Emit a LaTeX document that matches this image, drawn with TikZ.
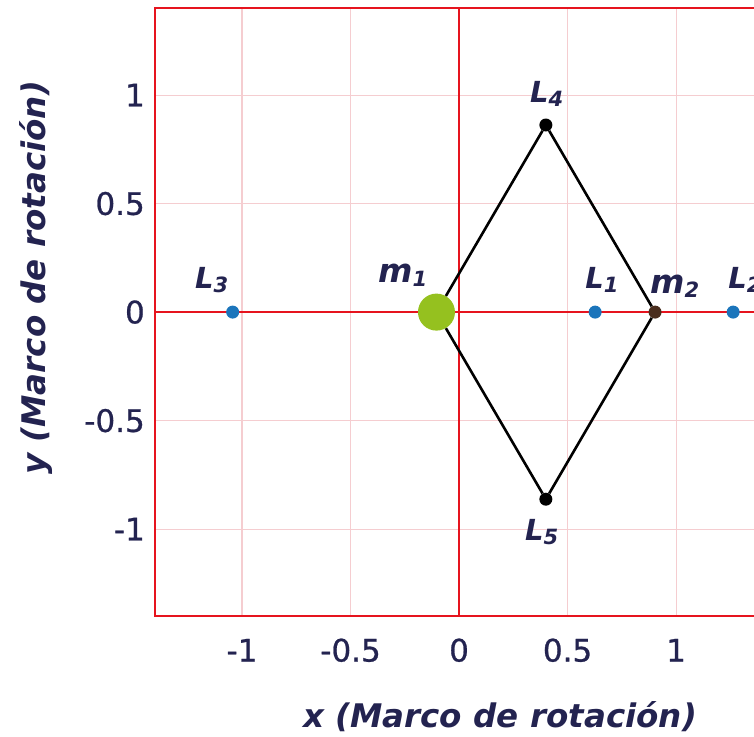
\documentclass[tikz,border=0pt]{standalone}
\usepackage{fontspec}
\setmainfont{DejaVu Sans}
\newfontfamily\tickfont[FakeBold=0.8]{DejaVu Sans}
\usepackage{xcolor}
\usepackage{tikz}
\usetikzlibrary{positioning}

\definecolor{ink}{HTML}{232350}
\definecolor{axred}{HTML}{E6141E}
\definecolor{gridred}{HTML}{F5CDD0}
\definecolor{lagblue}{HTML}{1B75BB}
\definecolor{mgreen}{HTML}{95C11F}
\definecolor{mbrown}{HTML}{4A2E1E}
\newcommand{\lsub}[1]{\raisebox{-4pt}{\fontsize{21}{21}\selectfont #1}}

\begin{document}
\begin{tikzpicture}[x=217pt,y=217pt,
  dot/.style={circle,inner sep=0pt,minimum size=13pt},
  lag/.style={dot,fill=lagblue},
  tri/.style={dot,fill=black},
  lbl/.style={text=ink,inner sep=0pt,anchor=base west,font=\fontsize{29}{30}\selectfont\bfseries\itshape},
  mlbl/.style={lbl,font=\fontsize{33}{34}\selectfont\bfseries\itshape},
  ticklbl/.style={text=ink,inner sep=0pt,font=\fontsize{31}{32}\tickfont},
  axlbl/.style={text=ink,inner sep=0pt,font=\fontsize{32.5}{34}\selectfont\bfseries\itshape},
  ax/.style={axred,line width=2.5pt},
  ar/.style={line width=2.6pt}]
\clip (-2.115,-1.954) rectangle (1.359,1.438);
% grid and frame
\foreach \v in {-1,-0.5,0.5,1} {
  \draw[gridred,line width=1pt] (\v,-1.4) -- (\v,1.4);
  \draw[gridred,line width=1pt] (-1.4,\v) -- (1.4,\v);
}
\draw[ax] (-1.4,-1.4) rectangle (1.4,1.4);
\draw[ax] (-1.4,0) -- (1.4,0);
\draw[ax] (0,-1.4) -- (0,1.4);
% ticks
\foreach \v in {-1,-0.5,0,0.5,1} {
  \node[ticklbl,anchor=east] at (-1.447,\v) {\v};
  \node[ticklbl] at (\v,-1.558) {\v};
}
\node[axlbl] (xlab) at (0.189,-1.866) {x (Marco de rotación)};
\node[axlbl,rotate=90] (ylab) at (-1.949,0.157) {y (Marco de rotación)};
% bodies and Lagrange points
\node[dot,minimum size=37pt,fill=mgreen] (m1) at (-0.104,0) {};
\node[dot,fill=mbrown] (m2) at (0.903,0) {};
\node[lag] (l1) at (0.627,0) {};
\node[lag] (l2) at (1.263,0) {};
\node[lag] (l3) at (-1.043,0) {};
\node[tri] (l4) at (0.4,0.862) {};
\node[tri] (l5) at (0.4,-0.862) {};
\draw[ar] (m1) -- (l4) -- (m2) -- (l5) -- (m1);
% labels
\node[lbl] (tl3) at (-1.217,0.111) {L\lsub{3}};
\node[lbl] (tl1) at (0.581,0.111) {L\lsub{1}};
\node[lbl] (tl2) at (1.240,0.111) {L\lsub{2}};
\node[lbl] (tl4) at (0.327,0.968) {L\lsub{4}};
\node[lbl] (tl5) at (0.304,-1.051) {L\lsub{5}};
\node[mlbl] (tm1) at (-0.373,0.138) {m\lsub{1}};
\node[mlbl] (tm2) at (0.880,0.088) {m\lsub{2}};
\end{tikzpicture}
\end{document}
